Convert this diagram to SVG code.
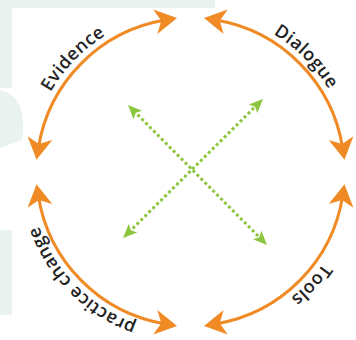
<svg xmlns="http://www.w3.org/2000/svg" width="356" height="340" viewBox="0 0 356 340">
<style>
.bg{fill:#e9f2ef}
.arc{fill:none;stroke:#f08a24;stroke-width:3;marker-start:url(#oa);marker-end:url(#oa)}
.dot{fill:none;stroke:#8cc63e;stroke-width:3;stroke-dasharray:3 2.6;marker-start:url(#ga);marker-end:url(#ga)}
.lbl{font-family:"Open Sans","DejaVu Sans",sans-serif;font-size:18px;font-weight:600;letter-spacing:0.4px;fill:#222}
</style>
<defs>
<marker id="oa" markerUnits="userSpaceOnUse" orient="auto-start-reverse" refX="0" refY="0" markerWidth="30" markerHeight="30" overflow="visible">
<path d="M12,0 L-10,-12.5 L-4,0 L-10,12.5 Z" fill="#f08a24"/>
</marker>
<marker id="ga" markerUnits="userSpaceOnUse" orient="auto-start-reverse" refX="0" refY="0" markerWidth="20" markerHeight="20" overflow="visible">
<path d="M8,0 L-6,-6 L-3,0 L-6,6 Z" fill="#8cc63e"/>
</marker>
<path id="tp" d="M29.5,172 A161,161 0 1 1 351.5,172 A161,161 0 1 1 29.5,172"/>
</defs>
<g id="background">
<rect class="bg" x="0" y="0" width="215" height="8"/>
<rect class="bg" x="0" y="0" width="12" height="88"/>
<path class="bg" d="M0,90 Q28,96 22,140 L0,148 Z"/>
<rect class="bg" x="0" y="230" width="12" height="85"/>
</g>
<g id="connectors">
<path class="arc" d="M38.38,148.01 A154,154 0 0 1 165.19,20.09"/>
<path class="arc" d="M215.81,20.09 A154,154 0 0 1 342.62,148.01"/>
<path class="arc" d="M342.62,195.99 A154,154 0 0 1 215.81,323.91"/>
<path class="arc" d="M165.19,323.91 A154,154 0 0 1 38.38,195.99"/>
<path class="dot" d="M133.6,110.7 L261.4,239.3"/>
<path class="dot" d="M128.7,232.4 L257.3,104.6"/>
</g>
<g id="evidence"><text class="lbl"><textPath href="#tp" startOffset="123.6" text-anchor="middle">Evidence</textPath></text></g>
<g id="dialogue"><text class="lbl"><textPath href="#tp" startOffset="379.4" text-anchor="middle">Dialogue</textPath></text></g>
<g id="tools"><text class="lbl"><textPath href="#tp" startOffset="626.5" text-anchor="middle">Tools</textPath></text></g>
<g id="practice-change"><text class="lbl"><textPath href="#tp" startOffset="885" text-anchor="middle">practice change</textPath></text></g>
</svg>
